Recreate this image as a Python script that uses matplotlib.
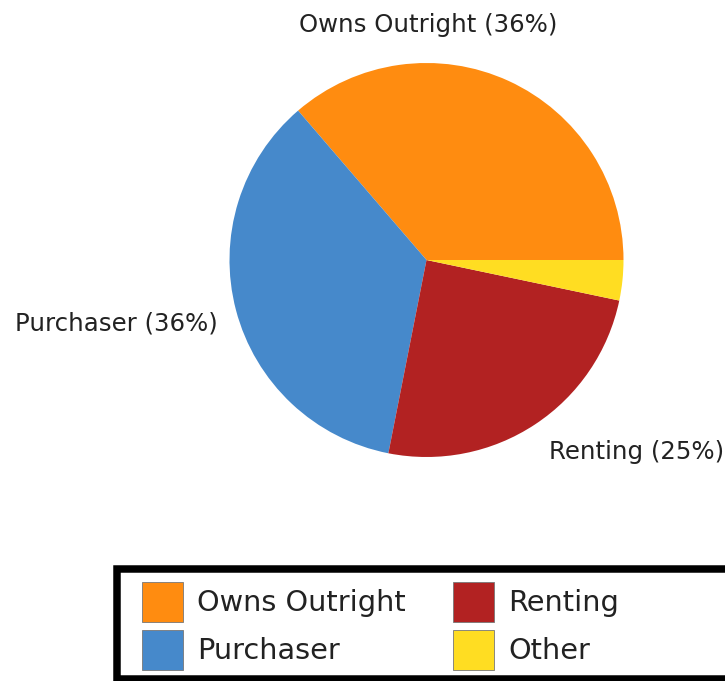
import matplotlib
matplotlib.use('Agg')
import matplotlib.pyplot as plt
from matplotlib.patches import Rectangle

# data
categories = ['Owns Outright', 'Purchaser', 'Renting', 'Other']
shares = [36.3, 35.6, 24.8, 3.3]
slice_labels = ['Owns Outright (36%)', 'Purchaser (36%)', 'Renting (25%)', '']
colors = ['#FF8C10', '#4689CB', '#B22222', '#FFDD22']

W, H = 725, 681
fig = plt.figure(figsize=(W / 100, H / 100), dpi=100)

# pie axes, centre (426, 260) px, radius ~197 px
cx, cy, r = 426.5, 260, 197
ax = fig.add_axes([(cx - r) / W, 1 - (cy + r) / H, 2 * r / W, 2 * r / H])
wedges, _ = ax.pie(shares, colors=colors, startangle=0, counterclock=True,
                   radius=1, wedgeprops=dict(linewidth=0))
ax.set_xlim(-1, 1)
ax.set_ylim(-1, 1)
ax.set_aspect('equal')
ax.axis('off')

# slice labels (placed as in the reference)
lab_pos = [(428, 25, 'center'), (15, 323, 'left'), (549, 452, 'left')]
for txt, (x, y, ha) in zip(slice_labels, lab_pos):
	fig.text(x / W, 1 - y / H, txt, ha=ha, va='center', fontsize=17.6, color='#222222')

# legend box with thick border, running off the right edge
box = Rectangle((117 / W, 1 - 678.5 / H), 640 / W, 110 / H, transform=fig.transFigure,
                facecolor='white', edgecolor='black', linewidth=5.4, clip_on=False)
fig.patches.append(box)

leg = fig.legend(wedges, categories, loc='upper left', bbox_to_anchor=(142 / W, 1 - 582 / H),
                 ncol=2, frameon=False, fontsize=20.7, borderpad=0, borderaxespad=0,
                 handlelength=1.43, handleheight=1.76, handletextpad=0.49,
                 labelspacing=0.28, columnspacing=1.63)
for h in leg.legend_handles:
	h.set_edgecolor('#777777')
	h.set_linewidth(0.6)
for t in leg.get_texts():
	t.set_color('#222222')

fig.savefig('out.png', dpi=100)
